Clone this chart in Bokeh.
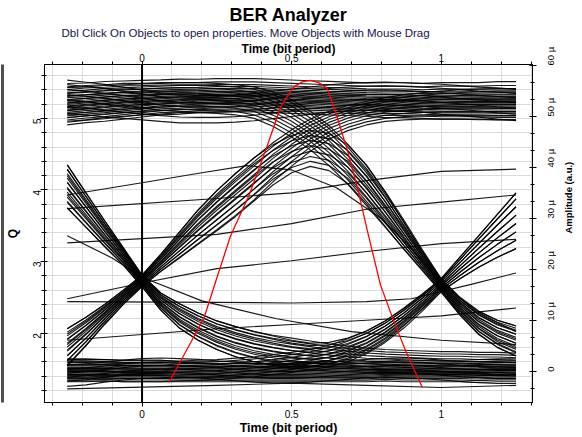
import math
from bokeh.plotting import figure
from bokeh.models import (Range1d, LinearAxis, FixedTicker, Grid, Span, Title)
from bokeh.embed import file_html
from bokeh.resources import INLINE

# ---------------------------------------------------------------- data
# sampling instants of the eye window (bit periods)
t_grid = [-0.25, -0.1875, -0.125, -0.0625, 0.0, 0.0625, 0.125, 0.1875, 0.25,
          0.3125, 0.375, 0.4375, 0.5, 0.5625, 0.625, 0.6875, 0.75, 0.8125,
          0.875, 0.9375, 1.0, 1.0625, 1.125, 1.1875, 1.25]

# centre of each bit-pattern band (Q units) and its half width
q_111 = [5.17, 5.19, 5.21, 5.23, 5.25, 5.27, 5.28, 5.29, 5.30, 5.30, 5.30, 5.29, 5.28,
         5.27, 5.26, 5.25, 5.24, 5.23, 5.23, 5.22, 5.22, 5.22, 5.22, 5.22, 5.22]
q_111b = [5.30, 5.28, 5.25, 5.22, 5.19, 5.16, 5.14, 5.13, 5.13, 5.14, 5.16, 5.19, 5.22,
          5.25, 5.28, 5.30, 5.31, 5.31, 5.30, 5.29, 5.27, 5.25, 5.23, 5.21, 5.19]
q_000 = [1.48, 1.48, 1.48, 1.47, 1.47, 1.47, 1.46, 1.46, 1.46, 1.46, 1.46, 1.46, 1.46,
         1.46, 1.46, 1.46, 1.46, 1.47, 1.47, 1.47, 1.47, 1.47, 1.47, 1.48, 1.48]
q_000b = [1.40, 1.42, 1.45, 1.48, 1.50, 1.51, 1.51, 1.50, 1.48, 1.46, 1.44, 1.43, 1.43,
          1.44, 1.46, 1.48, 1.50, 1.51, 1.51, 1.50, 1.48, 1.46, 1.45, 1.44, 1.44]
q_011 = [1.80, 2.02, 2.26, 2.50, 2.73, 2.98, 3.23, 3.48, 3.71, 3.93, 4.15, 4.38, 4.58,
         4.76, 4.90, 5.00, 5.07, 5.12, 5.15, 5.17, 5.18, 5.19, 5.19, 5.19, 5.19]
q_010 = [1.80, 2.02, 2.26, 2.50, 2.73, 2.98, 3.23, 3.48, 3.71, 3.93, 4.15, 4.35, 4.50,
         4.58, 4.53, 4.36, 4.08, 3.73, 3.36, 3.00, 2.66, 2.37, 2.14, 1.99, 1.89]
q_100 = [4.05, 3.72, 3.39, 3.07, 2.73, 2.44, 2.24, 2.09, 1.97, 1.88, 1.81, 1.76, 1.72,
         1.69, 1.66, 1.64, 1.62, 1.61, 1.60, 1.59, 1.58, 1.58, 1.57, 1.57, 1.56]
q_101 = [4.05, 3.72, 3.39, 3.07, 2.73, 2.44, 2.24, 2.09, 1.97, 1.88, 1.81, 1.76, 1.72,
         1.70, 1.72, 1.78, 1.88, 2.03, 2.22, 2.44, 2.67, 2.91, 3.14, 3.36, 3.57]
q_110 = [5.20, 5.22, 5.24, 5.26, 5.27, 5.28, 5.29, 5.29, 5.28, 5.26, 5.22, 5.13, 5.00,
         4.83, 4.62, 4.36, 4.06, 3.73, 3.38, 3.02, 2.67, 2.38, 2.15, 1.99, 1.89]
q_001 = [1.48, 1.48, 1.48, 1.47, 1.47, 1.47, 1.47, 1.48, 1.49, 1.51, 1.53, 1.56, 1.59,
         1.63, 1.68, 1.76, 1.87, 2.02, 2.21, 2.43, 2.67, 2.91, 3.14, 3.36, 3.57]

w_111 = [0.26, 0.25, 0.25, 0.24, 0.23, 0.22, 0.22, 0.21, 0.21, 0.21, 0.21, 0.21, 0.21,
         0.21, 0.21, 0.21, 0.21, 0.22, 0.22, 0.22, 0.23, 0.23, 0.23, 0.24, 0.24]
w_000 = [0.16, 0.16, 0.15, 0.15, 0.15, 0.15, 0.14, 0.14, 0.14, 0.14, 0.14, 0.14, 0.14,
         0.14, 0.14, 0.14, 0.14, 0.14, 0.15, 0.15, 0.15, 0.15, 0.16, 0.16, 0.16]
w_011 = [0.26, 0.20, 0.14, 0.10, 0.08, 0.12, 0.18, 0.24, 0.28, 0.30, 0.30, 0.28, 0.26,
         0.23, 0.20, 0.18, 0.17, 0.17, 0.18, 0.19, 0.20, 0.21, 0.22, 0.22, 0.22]
w_010 = [0.26, 0.20, 0.14, 0.10, 0.08, 0.12, 0.18, 0.24, 0.28, 0.30, 0.30, 0.28, 0.26,
         0.25, 0.26, 0.27, 0.27, 0.24, 0.19, 0.13, 0.09, 0.12, 0.16, 0.19, 0.21]
w_100 = [0.30, 0.24, 0.18, 0.12, 0.08, 0.12, 0.17, 0.19, 0.20, 0.21, 0.21, 0.21, 0.21,
         0.20, 0.19, 0.18, 0.17, 0.16, 0.16, 0.16, 0.16, 0.16, 0.16, 0.16, 0.16]
w_101 = [0.30, 0.24, 0.18, 0.12, 0.08, 0.12, 0.17, 0.19, 0.20, 0.21, 0.21, 0.20, 0.18,
         0.16, 0.15, 0.15, 0.15, 0.14, 0.12, 0.10, 0.09, 0.15, 0.22, 0.30, 0.39]
w_110 = [0.24, 0.24, 0.23, 0.23, 0.22, 0.22, 0.21, 0.21, 0.21, 0.21, 0.22, 0.24, 0.26,
         0.27, 0.28, 0.28, 0.28, 0.25, 0.20, 0.14, 0.09, 0.12, 0.16, 0.19, 0.21]
w_001 = [0.15, 0.15, 0.15, 0.15, 0.15, 0.15, 0.14, 0.14, 0.14, 0.14, 0.14, 0.14, 0.14,
         0.14, 0.15, 0.16, 0.16, 0.15, 0.14, 0.12, 0.09, 0.15, 0.22, 0.30, 0.39]

# position of each recorded trace inside its band (-1 lower edge, +1 upper edge)
f_111 = [-1.0, -0.86, -0.74, -0.62, -0.52, -0.43, -0.33, -0.24, -0.15, -0.07, 0.02,
         0.1, 0.18, 0.27, 0.36, 0.46, 0.57, 0.69, 0.82, 1.0, 1.22]
f_111b = [-0.92, -0.55, -0.2, 0.12, 0.4, 0.66, 0.9]
f_000 = [-1.0, -0.84, -0.7, -0.57, -0.45, -0.34, -0.23, -0.13, -0.03, 0.07, 0.17, 0.28,
         0.4, 0.53, 0.67, 0.82, 1.0]
f_000b = [-0.9, -0.45, -0.1, 0.25, 0.6, 0.95]
f_011 = [-0.95, -0.7, -0.45, -0.2, 0.02, 0.22, 0.42, 0.62, 0.82, 1.0]
f_010 = [-1.0, -0.72, -0.45, -0.15, 0.15, 0.45, 0.72, 1.0]
f_100 = [-1.0, -0.75, -0.5, -0.27, -0.05, 0.17, 0.38, 0.6, 0.8, 1.0]
f_101 = [-1.0, -0.7, -0.4, -0.1, 0.2, 0.5, 0.78, 1.0]
f_110 = [-1.0, -0.78, -0.56, -0.35, -0.15, 0.05, 0.25, 0.45, 0.65, 0.85, 1.0]
f_001 = [-1.0, -0.7, -0.4, -0.1, 0.2, 0.5, 0.78, 1.0]

# slow wandering traces crossing the window
stray_t = [
    [-0.25, 0.0, 0.2, 0.35, 0.5, 0.65, 0.8, 0.9, 1.0, 1.12, 1.25],
    [-0.25, 0.25, 0.5, 0.75, 1.0, 1.25],
    [-0.25, 0.25, 0.5, 0.75, 1.0, 1.25],
    [-0.25, 0.0, 0.25, 0.5, 0.75, 1.0, 1.25],
    [-0.25, 0.25, 0.5, 0.75, 0.9, 1.1, 1.25],
    [-0.25, 0.0, 0.25, 0.5, 0.75, 1.0, 1.25],
    [-0.25, 0.25, 0.5, 0.75, 1.0, 1.25],
    [-0.25, -0.1, 0.0, 0.2, 0.45, 0.7, 1.0, 1.25],
]
stray_q = [
    [3.93, 4.10, 4.24, 4.34, 4.28, 4.03, 3.60, 3.18, 2.72, 2.28, 2.02],
    [3.74, 3.88, 3.96, 4.13, 4.26, 4.29],
    [3.26, 3.38, 3.53, 3.73, 3.83, 3.93],
    [2.48, 2.70, 2.90, 3.01, 3.14, 3.25, 3.31],
    [2.44, 2.43, 2.42, 2.44, 2.48, 2.68, 2.84],
    [1.90, 1.98, 2.06, 2.12, 2.18, 2.24, 2.35],
    [1.22, 1.27, 1.30, 1.27, 1.24, 1.27],
    [3.36, 3.05, 2.78, 2.45, 2.20, 2.02, 1.90, 1.84],
]

# Q factor versus sampling instant
q_curve_t = [0.09, 0.15, 0.207, 0.25, 0.296, 0.357, 0.418, 0.463, 0.507, 0.535,
             0.563, 0.59, 0.619, 0.652, 0.686, 0.719, 0.752, 0.797, 0.842, 0.886, 0.937]
q_curve_q = [1.31, 1.77, 2.21, 2.77, 3.36, 3.92, 4.61, 5.16, 5.44, 5.51, 5.53, 5.50,
             5.42, 5.02, 4.56, 4.05, 3.45, 2.67, 2.16, 1.70, 1.24]

time_ticks = [0, 0.5, 1]
q_ticks = [2, 3, 4, 5]
amp_ticks = [0, 10, 20, 30, 40, 50, 60]
amp_labels = ["0", "10 \u00b5", "20 \u00b5", "30 \u00b5", "40 \u00b5", "50 \u00b5", "60 \u00b5"]

# ---------------------------------------------------------------- figure
FONT = "Liberation Sans"
p = figure(width=582, height=437, output_backend="svg", toolbar_location=None,
           x_range=Range1d(-0.326, 1.305), y_range=Range1d(1.03, 5.753),
           x_axis_location=None, y_axis_location=None,
           min_border_left=44, min_border_right=50, min_border_top=64,
           min_border_bottom=32, background_fill_color="white",
           border_fill_color="white", outline_line_color="black")
p.extra_y_ranges = {"amp": Range1d(-6.02, 60.19)}

minor_t = [round(-0.3 + 0.1 * i, 1) for i in range(17)]
minor_q = [round(1.2 + 0.2 * i, 1) for i in range(23)]
minor_a = [round(-10 / 3 + 10 / 3 * i, 3) for i in range(20)]

p.add_layout(Grid(dimension=0, ticker=FixedTicker(ticks=minor_t),
                  grid_line_color="#dadada", grid_line_width=1))
p.add_layout(Grid(dimension=1, ticker=FixedTicker(ticks=minor_q),
                  grid_line_color="#dadada", grid_line_width=1))


def style_axis(ax, label_size="10px", title_size="12px"):
    ax.axis_line_color = "black"
    ax.major_tick_line_color = "black"
    ax.minor_tick_line_color = "black"
    ax.major_label_text_font = FONT
    ax.major_label_text_font_size = label_size
    ax.major_label_text_color = "black"
    ax.axis_label_text_font = FONT
    ax.axis_label_text_font_style = "bold"
    ax.axis_label_text_font_size = title_size
    ax.axis_label_text_color = "black"


for side in ("below", "above"):
    ax = LinearAxis(ticker=FixedTicker(ticks=time_ticks, minor_ticks=minor_t),
                    axis_label="Time (bit period)",
                    major_label_overrides={0: "0", 0.5: "0.5", 1: "1"})
    ax.major_tick_in = 0
    ax.minor_tick_in = 0
    if side == "below":
        style_axis(ax, "10px", "12.5px")
        ax.major_tick_out = 4
        ax.minor_tick_out = 3
        ax.major_label_standoff = 3
        ax.axis_label_standoff = 0
    else:
        style_axis(ax, "10px", "12px")
        ax.major_tick_out = 3
        ax.minor_tick_out = 3
        ax.major_label_standoff = 0
        ax.axis_label_standoff = -5
    p.add_layout(ax, side)

ax_q = LinearAxis(ticker=FixedTicker(ticks=q_ticks, minor_ticks=minor_q), axis_label="Q",
                  major_label_orientation=math.pi / 2)
style_axis(ax_q, "10px", "12px")
ax_q.major_tick_in = 3
ax_q.major_tick_out = 4
ax_q.minor_tick_in = 2
ax_q.minor_tick_out = 3
ax_q.major_label_standoff = 3
ax_q.axis_label_standoff = 7
p.add_layout(ax_q, "left")

# dark window edge at the far left
edge = LinearAxis(ticker=FixedTicker(ticks=[]), axis_line_color="#505050",
                  axis_line_width=3, major_label_text_font_size="0px",
                  major_tick_line_color=None, minor_tick_line_color=None)
p.add_layout(edge, "left")

ax_a = LinearAxis(y_range_name="amp",
                  ticker=FixedTicker(ticks=amp_ticks, minor_ticks=minor_a),
                  axis_label="Amplitude (a.u.)",
                  major_label_overrides=dict(zip(amp_ticks, amp_labels)),
                  major_label_orientation=math.pi / 2)
style_axis(ax_a, "9.5px", "9.5px")
ax_a.major_tick_in = 3
ax_a.major_tick_out = 4
ax_a.minor_tick_in = 2
ax_a.minor_tick_out = 2
ax_a.major_label_standoff = 14
ax_a.axis_label_standoff = 4
if "axis_label_orientation" in LinearAxis.properties():
    ax_a.axis_label_orientation = math.pi / 2
p.add_layout(ax_a, "right")

# window titles, stacked above the top axis
p.add_layout(Title(text="Dbl Click On Objects to open properties.  Move Objects with Mouse Drag",
                   text_font=FONT, text_font_size="11.5px", text_font_style="normal",
                   text_color="#15154a", align="left", offset=17, standoff=0), "above")
p.add_layout(Title(text="BER Analyzer", text_font=FONT, text_font_size="18px",
                   text_font_style="bold", text_color="black", align="center",
                   standoff=0), "above")

# ---------------------------------------------------------------- eye traces
bands = [(q_111, w_111, f_111), (q_111b, w_111, f_111b), (q_000, w_000, f_000),
         (q_000b, w_000, f_000b), (q_011, w_011, f_011), (q_010, w_010, f_010),
         (q_100, w_100, f_100), (q_101, w_101, f_101), (q_110, w_110, f_110),
         (q_001, w_001, f_001)]
xs, ys = [], []
for centre, half, fracs in bands:
    for f in fracs:
        xs.append(t_grid)
        ys.append([c + f * h for c, h in zip(centre, half)])
xs += stray_t
ys += stray_q
p.multi_line(xs, ys, line_color="black", line_width=1.15, line_alpha=0.9)

p.add_layout(Span(location=0, dimension="height", line_color="black", line_width=2))

p.line(q_curve_t, q_curve_q, line_color="red", line_width=1.3)

open("out.html", "w").write(file_html(p, INLINE))
